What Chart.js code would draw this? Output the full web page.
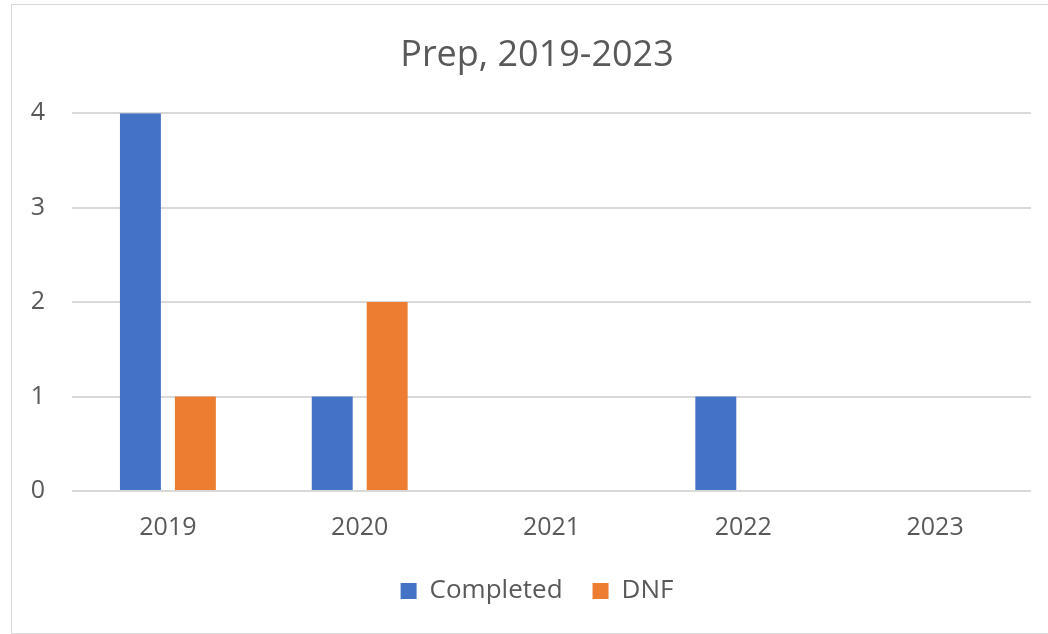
<!DOCTYPE html>
<html>
<head>
<meta charset="utf-8">
<script src="https://cdn.jsdelivr.net/npm/chart.js@4/dist/chart.umd.min.js"></script>
<style>
    html, body { margin: 0; padding: 0; background: #fff; }
    body { width: 1048px; height: 634px; position: relative; overflow: hidden; }
    #frame {
        position: absolute; left: 11px; top: 4px;
        width: 1060px; height: 628px;
        border: 1px solid #d9d9d9;
    }
    #wrap { position: absolute; left: 0; top: 0; width: 1048px; height: 634px; }
</style>
</head>
<body>
<div id="frame"></div>
<div id="wrap"><canvas id="chart"></canvas></div>
<script>
/* ── Data ───────────────────────────────────────────────────── */
const YEARS     = ['2019', '2020', '2021', '2022', '2023'];
const COMPLETED = [4, 1, 0, 1, 0];
const DNF       = [1, 2, 0, 0, 0];
const Y_TICKS   = [0, 1, 2, 3, 4];

const TEXT_COLOR = '#595959';
const GRID_COLOR = '#d9d9d9';
const FONT       = "'Open Sans', 'Noto Sans', sans-serif";

Chart.defaults.font.family = FONT;
Chart.defaults.color = TEXT_COLOR;

new Chart(document.getElementById('chart'), {
    type: 'bar',
    data: {
        labels: YEARS,
        datasets: [
            { label: 'Completed', data: COMPLETED, backgroundColor: '#4472c4', yAxisID: 'y' },
            { label: 'DNF',       data: DNF,       backgroundColor: '#ed7d31', yAxisID: 'y' },
        ],
    },
    options: {
        responsive: true,
        maintainAspectRatio: false,
        animation: false,
        categoryPercentage: 0.573,
        barPercentage: 0.745,
        /* frame runs past the right edge, so title + legend centre on it */
        layout: { padding: { left: 11, right: -15, top: 4, bottom: 20 } },
        plugins: {
            title: {
                display: true,
                text: 'Prep, 2019-2023',
                color: TEXT_COLOR,
                font: { size: 36, weight: 'normal' },
                padding: { top: 30, bottom: 36 },
            },
            legend: {
                position: 'bottom',
                labels: {
                    boxWidth: 16, boxHeight: 16,
                    padding: 30,
                    color: TEXT_COLOR,
                    font: { size: 26 },
                },
            },
            tooltip: { enabled: false },
        },
        scales: {
            x: {
                grid: { display: false, drawTicks: false },
                border: { display: false },
                ticks: { padding: 22, font: { size: 25 }, color: TEXT_COLOR },
                afterFit: (scale) => { scale.height -= 17; },
            },
            y: {
                min: 0, max: 4,
                afterFit: (scale) => { scale.width = 61; },
                afterBuildTicks: (scale) => { scale.ticks = Y_TICKS.map(v => ({ value: v })); },
                grid: { color: GRID_COLOR, lineWidth: 2, drawTicks: false },
                border: { display: false },
                ticks: { padding: 27, font: { size: 25 }, color: TEXT_COLOR },
            },
            /* empty right-hand spacer so the plot ends where the reference does */
            spacer: {
                position: 'right',
                afterFit: (scale) => { scale.width = 32; },
                grid: { display: false, drawTicks: false },
                border: { display: false },
                ticks: { display: false },
            },
        },
    },
});
</script>
</body>
</html>
